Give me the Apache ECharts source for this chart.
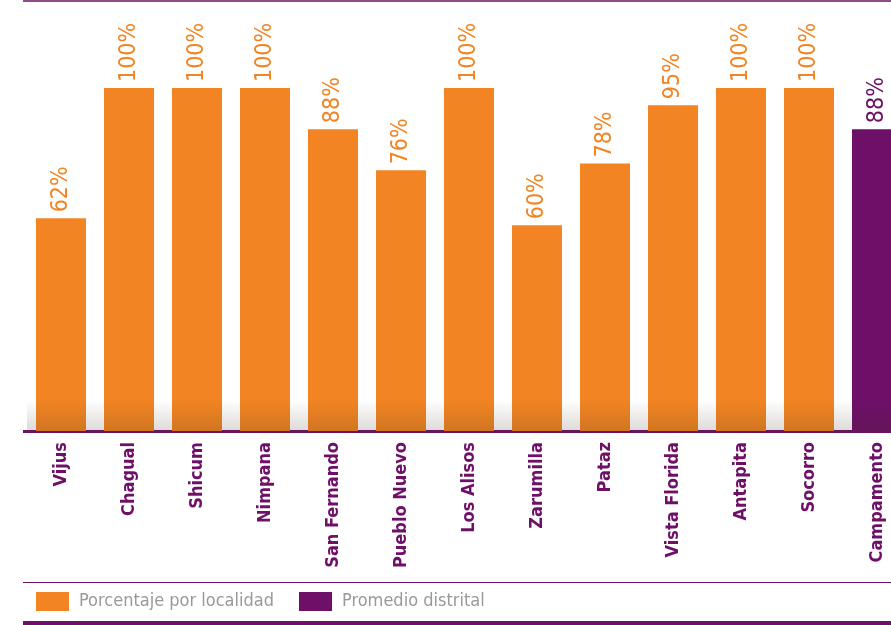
<!DOCTYPE html>
<html>
<head>
<meta charset="utf-8">
<script src="https://cdn.jsdelivr.net/npm/echarts@6/dist/echarts.min.js"></script>
<style>html,body{margin:0;padding:0;background:#fff;}#c{width:891px;height:625px;}</style>
</head>
<body>
<div id="c"></div>
<script>
var categories = ['Vijus','Chagual','Shicum','Nimpana','San Fernando','Pueblo Nuevo','Los Alisos','Zarumilla','Pataz','Vista Florida','Antapita','Socorro','Campamento'];
var localidadValues = [62,100,100,100,88,76,100,60,78,95,100,100,'-'];
var promedioValues = ['-','-','-','-','-','-','-','-','-','-','-','-',88];
var seriesNames = ['Porcentaje por localidad','Promedio distrital'];

var ORANGE = '#F28423';
var PURPLE = '#6E0F68';
var FONT = '"DejaVu Sans Condensed", "Liberation Sans Narrow", Roboto, sans-serif';

var chart = echarts.init(document.getElementById('c'));
chart.setOption({
  animation: false,
  backgroundColor: '#fff',
  grid: {left: 27, width: 884, top: 88, bottom: 194, outerBoundsMode: 'none', containLabel: false},
  xAxis: {
    type: 'category',
    data: categories,
    axisTick: {show: false},
    axisLine: {lineStyle: {color: PURPLE, width: 3}},
    axisLabel: {interval: 0, rotate: 90, margin: 11, color: PURPLE, fontFamily: FONT, fontWeight: 'bold', fontSize: 18}
  },
  yAxis: {type: 'value', min: 0, max: 100, show: false, splitLine: {show: false}},
  legend: {
    data: seriesNames,
    left: 36, top: 592, padding: 0,
    itemWidth: 33, itemHeight: 19, itemGap: 25,
    icon: 'rect',
    textStyle: {color: '#999', fontFamily: FONT, fontSize: 18, padding: [0,0,0,5]}
  },
  series: [
    {
      name: seriesNames[0], type: 'bar', stack: 'total', barWidth: 50,
      itemStyle: {color: ORANGE},
      label: {show: true, position: 'top', rotate: 90, align: 'left', verticalAlign: 'middle', distance: 6,
        formatter: '{c}%', color: ORANGE, fontFamily: FONT, fontSize: 23},
      data: localidadValues
    },
    {
      name: seriesNames[1], type: 'bar', stack: 'total', barWidth: 50,
      itemStyle: {color: PURPLE},
      label: {show: true, position: 'top', rotate: 90, align: 'left', verticalAlign: 'middle', distance: 6,
        formatter: '{c}%', color: PURPLE, fontFamily: FONT, fontSize: 23},
      data: promedioValues
    },
    {
      name: 'shade', type: 'line', data: [], z: 10, silent: true,
      markArea: {
        silent: true, z: 10,
        itemStyle: {color: {type: 'linear', x: 0, y: 0, x2: 0, y2: 1, colorStops: [
          {offset: 0, color: 'rgba(60,50,30,0)'}, {offset: 1, color: 'rgba(60,50,30,0.18)'}]}},
        data: [[{yAxis: 0}, {yAxis: 9}]]
      }
    }
  ],
  graphic: [
    {type: 'line', shape: {x1: 23, y1: 1, x2: 891, y2: 1}, style: {stroke: PURPLE, lineWidth: 1.5}},
    {type: 'line', shape: {x1: 23, y1: 582.5, x2: 891, y2: 582.5}, style: {stroke: PURPLE, lineWidth: 1}},
    {type: 'rect', shape: {x: 23, y: 621, width: 868, height: 4}, style: {fill: PURPLE}},
    {type: 'rect', shape: {x: 23, y: 430, width: 5, height: 3}, style: {fill: PURPLE}}
  ]
});
</script>
</body>
</html>
